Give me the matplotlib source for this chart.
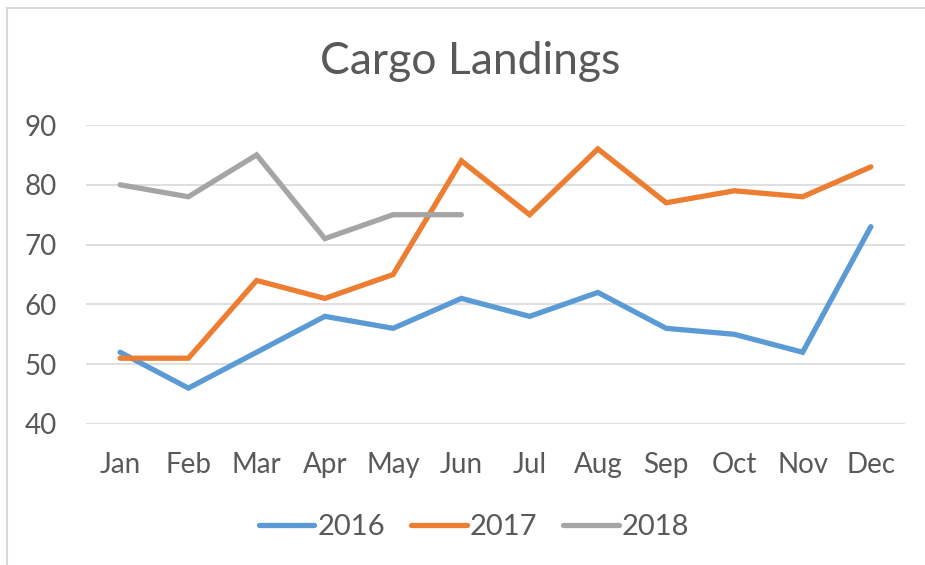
import numpy as np
import matplotlib.pyplot as plt
from matplotlib.lines import Line2D

months = ['Jan', 'Feb', 'Mar', 'Apr', 'May', 'Jun',
          'Jul', 'Aug', 'Sep', 'Oct', 'Nov', 'Dec']
vals_2016 = [52, 46, 52, 58, 56, 61, 58, 62, 56, 55, 52, 73]
vals_2017 = [51, 51, 64, 61, 65, 84, 75, 86, 77, 79, 78, 83]
vals_2018 = [80, 78, 85, 71, 75, 75]
yticks = [40, 50, 60, 70, 80, 90]

plt.rcParams['font.family'] = ['Lato', 'DejaVu Sans']
txt = '#595959'

W, H = 925, 565
fig = plt.figure(figsize=(W / 100, H / 100), dpi=100)
ax = fig.add_axes([86 / W, 1 - 424 / H, (905 - 86) / W, (424 - 125) / H])

x = np.arange(len(months))
ax.plot(x, vals_2016, color='#5B9BD5', lw=3.8, label='2016', solid_capstyle='round', solid_joinstyle='miter')
ax.plot(x, vals_2017, color='#ED7D31', lw=3.8, label='2017', solid_capstyle='round', solid_joinstyle='miter')
ax.plot(x[:len(vals_2018)], vals_2018, color='#A5A5A5', lw=3.8, label='2018', solid_capstyle='round', solid_joinstyle='miter')

ax.set_xlim(-0.5, 11.5)
ax.set_ylim(40, 90)
ax.set_yticks(yticks)
ax.set_xticks(x)
ax.set_xticklabels(months)
ax.grid(axis='y', color='#D9D9D9', lw=1.2)
ax.set_axisbelow(True)
for s in ax.spines.values():
    s.set_visible(False)
ax.tick_params(length=0, labelsize=20, colors=txt)
ax.tick_params(axis='x', pad=20)
ax.tick_params(axis='y', pad=21)

fig.text(470 / W, 1 - 62 / H, 'Cargo Landings', ha='center', va='center', fontsize=32, color=txt)

leg = fig.legend(loc='center', bbox_to_anchor=(474 / W, 1 - 527 / H), ncol=3, frameon=False,
                 fontsize=21, labelcolor=txt, handlelength=1.9, handletextpad=0.1, columnspacing=0.9)
for h in leg.legend_handles:
    h.set_solid_capstyle('round')

# chart frame (top and left edges visible)
fig.add_artist(Line2D([7 / W, 1], [1 - 8 / H, 1 - 8 / H], color='#D9D9D9', lw=1.5))
fig.add_artist(Line2D([7 / W, 7 / W], [0, 1 - 8 / H], color='#D9D9D9', lw=1.5))

fig.savefig('out.png', dpi=100)
